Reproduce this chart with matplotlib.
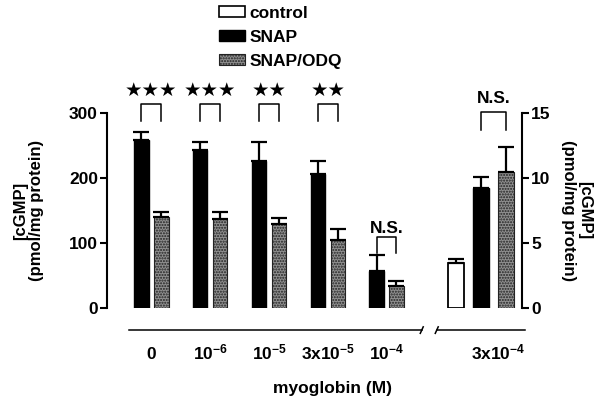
import numpy as np
import matplotlib.pyplot as plt
from matplotlib.patches import Patch

plt.rcParams["font.family"] = ["Liberation Sans", "DejaVu Sans"]
plt.rcParams["font.weight"] = "bold"
plt.rcParams["axes.labelweight"] = "bold"
plt.rcParams["font.size"] = 12.5
plt.rcParams["mathtext.fontset"] = "custom"
plt.rcParams["mathtext.rm"] = "Liberation Sans:bold"
plt.rcParams["mathtext.it"] = "Liberation Sans:bold"
plt.rcParams["mathtext.bf"] = "Liberation Sans:bold"
plt.rcParams["mathtext.default"] = "regular"
plt.rcParams["hatch.linewidth"] = 1.0

# left panel data (pmol/mg protein, left axis)
conc_left = ["0", "10$^{-6}$", "10$^{-5}$", "3x10$^{-5}$", "10$^{-4}$"]
snap = [258, 243, 226, 206, 57]
snap_err = [13, 12, 30, 20, 24]
odq = [140, 137, 129, 105, 34]
odq_err = [8, 10, 9, 17, 8]
sig_left = ["★★★", "★★★", "★★", "★★", "N.S."]

# right panel data (right axis, 0-15)
conc_right = "3x10$^{-4}$"
right_labels = ["control", "SNAP", "SNAP/ODQ"]
right_vals = [3.5, 9.25, 10.5]
right_err = [0.25, 0.8, 1.85]
sig_right = "N.S."

GRAY = "#909090"
HATCH_EC = "#222222"
fig = plt.figure(figsize=(6.01, 4.03), dpi=100)
ax = fig.add_axes([107 / 601, 1 - 308 / 403, 415 / 601, 195 / 403])
ax2 = ax.twinx()

w = 0.24
off = 0.17
x = np.arange(len(conc_left))
ekw = dict(fmt="none", ecolor="black", elinewidth=1.6, capsize=5.5, capthick=1.6)

ax.bar(x - off, snap, w, color="black", edgecolor="black", zorder=2)
ax.bar(x + off, odq, w, color=GRAY, edgecolor=HATCH_EC, hatch="......", lw=0.8, zorder=2)
ax.errorbar(x - off, snap, yerr=[np.zeros(len(x)), snap_err], zorder=3, **ekw)
ax.errorbar(x + off, odq, yerr=[np.zeros(len(x)), odq_err], zorder=3, **ekw)

# significance marks
for i, s in enumerate(sig_left):
    top = max(snap[i] + snap_err[i], odq[i] + odq_err[i])
    if s == "N.S.":
        yb = top + 4
        ax.plot([i - off, i - off, i + off, i + off], [yb, yb + 25, yb + 25, yb],
                color="black", lw=1.1, clip_on=False)
        ax.text(i, yb + 38, s, ha="center", va="center", fontsize=12.5)
    else:
        ax.plot([i - off, i - off, i + off, i + off], [287, 314, 314, 287],
                color="black", lw=1.1, clip_on=False)
        ax.text(i, 335, s, ha="center", va="center", fontsize=14,
                family="DejaVu Sans")

# right group
rc = 5.608
rs = 0.425
xr = rc + np.array([-1, 0, 1]) * rs
wr = 0.27
ax2.bar(xr[0], right_vals[0], wr, color="white", edgecolor="black", lw=1.3, zorder=2)
ax2.bar(xr[1], right_vals[1], wr, color="black", edgecolor="black", zorder=2)
ax2.bar(xr[2], right_vals[2], wr, color=GRAY, edgecolor=HATCH_EC, hatch="......", lw=0.8, zorder=2)
ax2.errorbar(xr, right_vals, yerr=[np.zeros(3), right_err], zorder=3, **ekw)
ax2.plot([xr[1], xr[1], xr[2], xr[2]], [13.7, 15.05, 15.05, 13.7],
         color="black", lw=1.1, clip_on=False)
ax2.text((xr[1] + xr[2]) / 2, 16.1, sig_right, ha="center", va="center", fontsize=12.5)

ax.set_xlim(-0.757, 6.306)
ax.set_ylim(0, 300)
ax2.set_ylim(0, 15)
ax.set_yticks([0, 100, 200, 300])
ax2.set_yticks([0, 5, 10, 15])

for a in (ax, ax2):
    for sp in ("top", "bottom"):
        a.spines[sp].set_visible(False)
ax.spines["right"].set_visible(False)
ax2.spines["left"].set_visible(False)
ax.spines["left"].set_linewidth(1.5)
ax2.spines["right"].set_linewidth(1.5)
ax.tick_params(axis="y", length=5, width=1.5, pad=1.5, labelsize=12.5)
ax2.tick_params(axis="y", length=5, width=1.5, pad=1.5, labelsize=12.5)

# x labels placed on a common baseline
ax.set_xticks([])
xpos = list(x) + [rc + 0.29]
for xp, lab in zip(xpos, conc_left + [conc_right]):
    ax.text(xp, -78.5, lab, ha="center", va="baseline", fontsize=12.5, clip_on=False)

# broken x line
yl = -34
ax.plot([-0.383, 4.60], [yl, yl], color="black", lw=1.1, clip_on=False)
ax.plot([4.855, 6.357], [yl, yl], color="black", lw=1.1, clip_on=False)
for xb in (4.60, 4.855):
    ax.plot([xb - 0.025, xb + 0.025], [yl - 5, yl + 5], color="black", lw=1.1, clip_on=False)

ax.set_ylabel("[cGMP]\n(pmol/mg protein)", fontsize=12, labelpad=18, linespacing=1.1)
ax2.set_ylabel("[cGMP]\n(pmol/mg protein)", fontsize=12, rotation=270,
               labelpad=30, linespacing=1.1)
fig.text(333 / 601, 1 - 388 / 403, "myoglobin (M)", ha="center", va="center", fontsize=12.5)

handles = [Patch(facecolor="white", edgecolor="black", lw=1.2),
           Patch(facecolor="black", edgecolor="black"),
           Patch(facecolor=GRAY, edgecolor=HATCH_EC, hatch="......", lw=0.8)]
fig.legend(handles, right_labels, loc="upper left", bbox_to_anchor=(219 / 601, 1 - 6 / 403),
           frameon=False, borderpad=0, borderaxespad=0, handlelength=1.5, handleheight=0.6,
           handletextpad=0.25, labelspacing=0.52, fontsize=12.5)

fig.savefig("out.png", dpi=100)
